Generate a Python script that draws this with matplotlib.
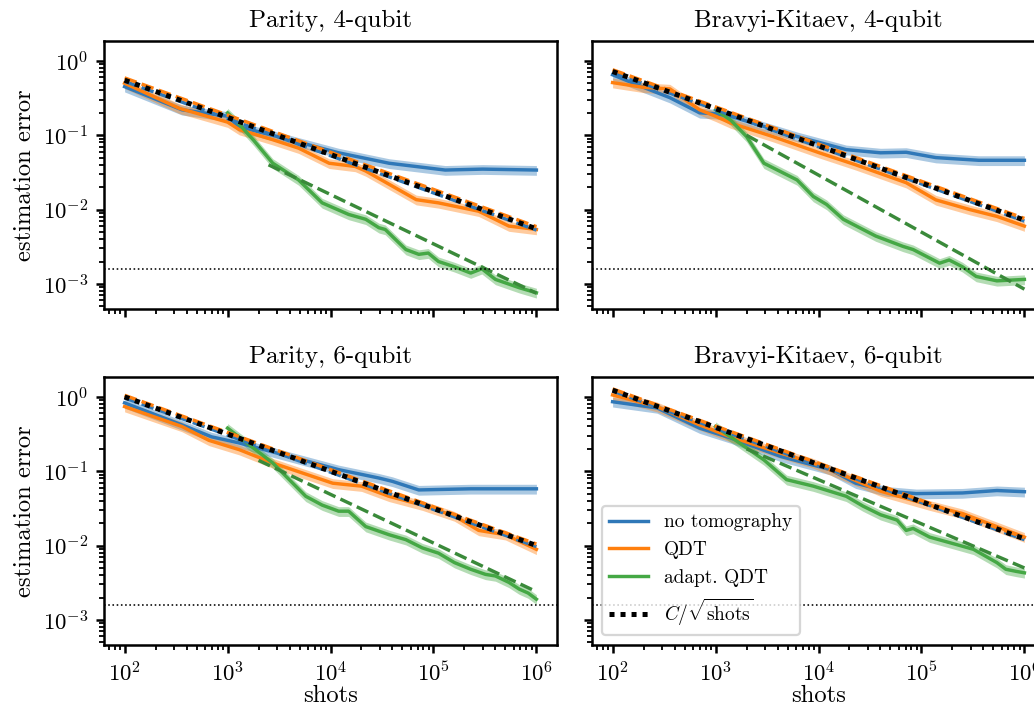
import numpy as np
import matplotlib
matplotlib.use("Agg")
import matplotlib.pyplot as plt
from matplotlib.ticker import LogLocator, NullFormatter

plt.rcParams['font.family'] = 'serif'
plt.rcParams['font.serif'] = ['cmr10', 'DejaVu Serif']
plt.rcParams['mathtext.fontset'] = 'cm'
plt.rcParams['axes.formatter.use_mathtext'] = True
plt.rcParams['font.size'] = 10
plt.rcParams['axes.titlesize'] = 11
plt.rcParams['axes.linewidth'] = 1.1

# ---- data (shots, estimation error) ----
titles = ['Parity, 4-qubit', 'Bravyi-Kitaev, 4-qubit',
          'Parity, 6-qubit', 'Bravyi-Kitaev, 6-qubit']

# Parity, 4-qubit
shots_blue_p4 = [1e2, 3.6e2, 1e3, 1.3e3, 4e3, 1.2e4, 3.7e4, 1.3e5, 3e5, 1e6]
err_blue_p4 = [0.45, 0.22, 0.18, 0.13, 0.087, 0.058, 0.042, 0.034, 0.035, 0.034]
shots_orange_p4 = [1e2, 3.4e2, 1e3, 1.3e3, 2.75e3, 4.9e3, 9.7e3, 1.74e4, 2.2e4,
                   6.8e4, 1.12e5, 2.75e5, 5.4e5, 1e6]
err_orange_p4 = [0.50, 0.23, 0.15, 0.119, 0.087, 0.067, 0.042, 0.038, 0.033,
                 0.0136, 0.0123, 0.0095, 0.006, 0.0054]
shots_green_p4 = [1e3, 1.3e3, 1.8e3, 2.75e3, 4.9e3, 8.3e3, 1.5e4, 2.2e4, 2.95e4,
                  3.4e4, 5.4e4, 7.2e4, 8.9e4, 1.12e5, 1.6e5, 2.3e5, 2.95e5,
                  4e5, 6.8e5, 1e6]
err_green_p4 = [0.20, 0.14, 0.085, 0.042, 0.025, 0.0123, 0.0086, 0.0074, 0.0057,
                0.0054, 0.0029, 0.0025, 0.0026, 0.0020, 0.0017, 0.0014, 0.0016,
                0.00115, 0.00089, 0.00076]

# Bravyi-Kitaev, 4-qubit
shots_blue_bk4 = [1e2, 2e2, 3.6e2, 7e2, 1e3, 1.4e3, 6.2e3, 1.86e4, 4e4, 7.1e4,
                  1.38e5, 3.6e5, 1e6]
err_blue_bk4 = [0.65, 0.44, 0.32, 0.20, 0.195, 0.18, 0.096, 0.064, 0.058, 0.059,
                0.050, 0.046, 0.046]
shots_orange_bk4 = [1e2, 2e2, 3.6e2, 7e2, 1e3, 1.4e3, 3.6e3, 1.02e4, 2.3e4,
                    7.1e4, 1.38e5, 2.95e5, 5.4e5, 1e6]
err_orange_bk4 = [0.51, 0.44, 0.42, 0.22, 0.18, 0.146, 0.096, 0.058, 0.040,
                  0.023, 0.0135, 0.010, 0.0081, 0.006]
shots_green_bk4 = [1e3, 1.4e3, 2e3, 2.95e3, 6.2e3, 8.9e3, 1.2e4, 1.74e4, 3.6e4,
                   6.6e4, 8.3e4, 1.5e5, 1.86e5, 2.5e5, 3.4e5, 5.4e5, 1e6]
err_green_bk4 = [0.22, 0.16, 0.096, 0.042, 0.025, 0.015, 0.0117, 0.0074, 0.0044,
                 0.0032, 0.0029, 0.0019, 0.0021, 0.0017, 0.00126, 0.0011, 0.00115]

# Parity, 6-qubit
shots_blue_p6 = [1e2, 3.6e2, 7e2, 1.3e3, 4e3, 1.2e4, 2.95e4, 4e4, 7.2e4, 2.3e5, 1e6]
err_blue_p6 = [0.83, 0.42, 0.29, 0.24, 0.158, 0.105, 0.081, 0.073, 0.056,
               0.058, 0.058]
shots_orange_p6 = [1e2, 3.6e2, 6.6e2, 1.3e3, 2.75e3, 1.05e4, 2e4, 3.7e4, 7.8e4,
                   1.6e5, 2.75e5, 5e5, 1e6]
err_orange_p6 = [0.74, 0.40, 0.26, 0.195, 0.129, 0.069, 0.063, 0.046, 0.035,
                 0.025, 0.016, 0.014, 0.0089]
shots_green_p6 = [1e3, 1.6e3, 2.75e3, 5.75e3, 8.3e3, 1.2e4, 1.5e4, 2.2e4, 3.7e4,
                  5.4e4, 7.8e4, 1.12e5, 1.6e5, 2.3e5, 3.2e5, 4e5, 5.4e5, 6.8e5,
                  8.3e5, 1e6]
err_green_p6 = [0.38, 0.23, 0.129, 0.046, 0.035, 0.029, 0.029, 0.018, 0.014,
                0.012, 0.0093, 0.0079, 0.0059, 0.0048, 0.0041, 0.0039, 0.0032,
                0.0026, 0.0023, 0.0019]

# Bravyi-Kitaev, 6-qubit
shots_blue_bk6 = [1e2, 2.7e2, 7e2, 1.4e3, 4.3e3, 1.3e4, 2.3e4, 4.6e4, 8.9e4,
                  2.5e5, 5.4e5, 1e6]
err_blue_bk6 = [0.86, 0.71, 0.38, 0.28, 0.158, 0.105, 0.069, 0.054, 0.050,
                0.051, 0.055, 0.053]
shots_orange_bk6 = [1e2, 2.7e2, 7e2, 1.4e3, 4.3e3, 8.9e3, 1.86e4, 4e4, 1.2e5,
                    2.5e5, 5.4e5, 1e6]
err_orange_bk6 = [1.06, 0.74, 0.42, 0.29, 0.175, 0.129, 0.085, 0.054, 0.035,
                  0.027, 0.018, 0.013]
shots_green_bk6 = [1e3, 1.4e3, 2.95e3, 4.9e3, 8.9e3, 1.86e4, 2.7e4, 4e4, 5.8e4,
                   7.1e4, 8.3e4, 1.2e5, 2.2e5, 3.2e5, 5.4e5, 6.6e5, 8.3e5, 1e6]
err_green_bk6 = [0.40, 0.29, 0.142, 0.077, 0.063, 0.046, 0.034, 0.026, 0.022,
                 0.016, 0.017, 0.013, 0.0103, 0.0089, 0.0059, 0.0048, 0.0045,
                 0.0043]

# C / sqrt(shots) constants: black reference, blue and orange fits
c_black = [5.5, 7.2, 10.0, 12.3]
c_blue_fit = [5.3, 7.0, 9.7, 12.0]
c_orange_fit = [5.9, 7.6, 10.5, 12.8]
# adapt. QDT fit line, endpoints
green_fit_shots = [[2.5e3, 1e6], [2e3, 1e6], [2e3, 1e6], [2e3, 1e6]]
green_fit_err = [[0.040, 7.5e-4], [0.10, 8.5e-4], [0.14, 2.4e-3], [0.20, 5.0e-3]]

floor_level = 1.6e-3
fit_range = [1e2, 1e6]

blue_s = [shots_blue_p4, shots_blue_bk4, shots_blue_p6, shots_blue_bk6]
blue_e = [err_blue_p4, err_blue_bk4, err_blue_p6, err_blue_bk6]
orange_s = [shots_orange_p4, shots_orange_bk4, shots_orange_p6, shots_orange_bk6]
orange_e = [err_orange_p4, err_orange_bk4, err_orange_p6, err_orange_bk6]
green_s = [shots_green_p4, shots_green_bk4, shots_green_p6, shots_green_bk6]
green_e = [err_green_p4, err_green_bk4, err_green_p6, err_green_bk6]

c_blue, c_orange, c_green = '#2f78b8', '#ff7f0e', '#45a845'
spread = 0.15

fig = plt.figure(figsize=(1034 / 164, 708 / 164), dpi=164)
W, H = 1034, 708
positions = [(104, 41), (592, 41), (104, 377), (592, 377)]
aw, ah = 453, 268

for i, (px, py) in enumerate(positions):
    ax = fig.add_axes([px / W, 1 - (py + ah) / H, aw / W, ah / H])
    ax.set_xscale('log')
    ax.set_yscale('log')

    handles = []
    for s, e, col, lab in [(blue_s[i], blue_e[i], c_blue, 'no tomography'),
                           (orange_s[i], orange_e[i], c_orange, 'QDT'),
                           (green_s[i], green_e[i], c_green, 'adapt. QDT')]:
        s = np.array(s)
        e = np.array(e)
        ax.fill_between(s, e * (1 - spread), e * (1 + spread), color=col,
                        alpha=0.4, lw=0)
        h, = ax.plot(s, e, color=col, lw=1.5, label=lab)
        handles.append(h)

    xs = np.array(fit_range)
    ax.plot(xs, c_blue_fit[i] / np.sqrt(xs), '--', color=c_blue, lw=1.5)
    ax.plot(xs, c_orange_fit[i] / np.sqrt(xs), '--', color=c_orange, lw=1.5)
    ax.plot(green_fit_shots[i], green_fit_err[i], '--', color='#3a8a3a', lw=1.5)
    h, = ax.plot(xs, c_black[i] / np.sqrt(xs), color='k', lw=2.2,
                 linestyle=(0, (1, 1.2)), label=r'$C/\sqrt{\mathrm{shots}}$')
    handles.append(h)
    ax.axhline(floor_level, color='k', ls=':', lw=0.7)

    ax.set_ylim(4.6e-4, 1.85)
    ax.set_xlim(10 ** 1.8, 10 ** 6.2)
    ax.set_title(titles[i])
    ax.xaxis.set_major_locator(LogLocator(base=10, numticks=10))
    ax.xaxis.set_minor_locator(LogLocator(base=10, subs=np.arange(2, 10), numticks=20))
    ax.yaxis.set_minor_locator(LogLocator(base=10, subs=np.arange(2, 10), numticks=20))
    ax.xaxis.set_minor_formatter(NullFormatter())
    ax.yaxis.set_minor_formatter(NullFormatter())
    ax.tick_params(which='major', width=1.1, length=3.5)
    ax.tick_params(which='minor', width=0.8, length=2)

    if i % 2 == 0:
        ax.set_ylabel('estimation error', fontsize=10.8, labelpad=3)
    else:
        ax.tick_params(labelleft=False)
    if i < 2:
        ax.tick_params(labelbottom=False)
    else:
        ax.set_xlabel('shots', fontsize=10.8, labelpad=0)

    if i == 3:
        ax.legend(handles=handles, loc='lower left', fontsize=8.5, framealpha=0.8)

fig.savefig('out.png', dpi=164)
